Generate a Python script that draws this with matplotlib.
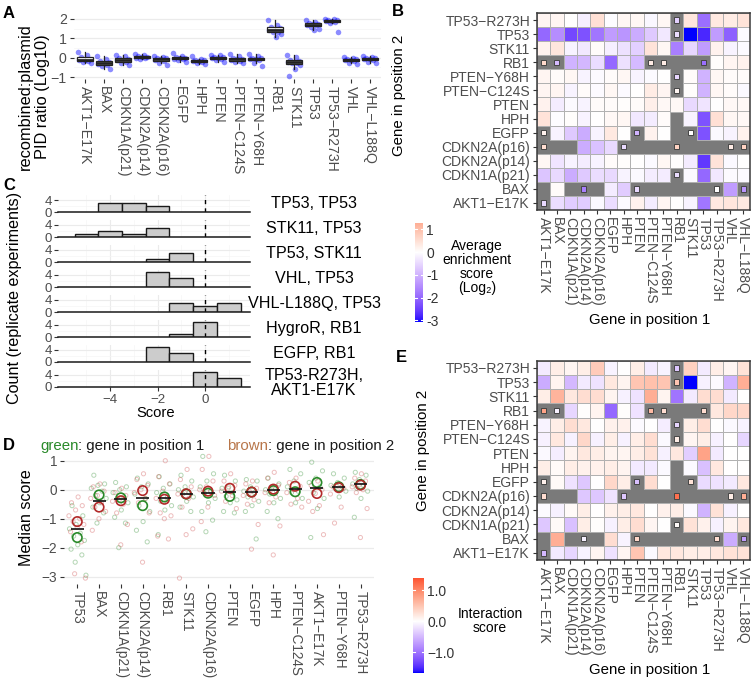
import numpy as np
import matplotlib
matplotlib.use('Agg')
import matplotlib.pyplot as plt
from matplotlib.colors import ListedColormap, Normalize
from matplotlib.patches import Rectangle

plt.rcParams['font.family'] = ['Liberation Sans', 'DejaVu Sans']
plt.rcParams['axes.unicode_minus'] = True

nan = np.nan

# ---------------- data ----------------
# Panel A
a_genes = ['AKT1−E17K', 'BAX', 'CDKN1A(p21)', 'CDKN2A(p14)', 'CDKN2A(p16)', 'EGFP', 'HPH', 'PTEN',
           'PTEN−C124S', 'PTEN−Y68H', 'RB1', 'STK11', 'TP53', 'TP53−R273H', 'VHL', 'VHL−L188Q']
a_vals = [
    [0.3, 0.12, 0.05, -0.05, -0.1, -0.12, -0.15, -0.2, -0.25],
    [0.1, -0.05, -0.15, -0.22, -0.28, -0.32, -0.38, -0.45, -0.6],
    [0.15, 0.1, 0.0, -0.05, -0.1, -0.12, -0.2, -0.25, -0.38],
    [0.2, 0.12, 0.08, 0.05, 0.02, 0.0, -0.03, -0.05],
    [0.1, 0.05, 0.0, -0.03, -0.07, -0.1, -0.15, -0.25, -0.38],
    [0.25, 0.1, 0.05, 0.0, -0.02, -0.05, -0.08, -0.12, -0.2],
    [0.1, -0.05, -0.1, -0.13, -0.15, -0.18, -0.22, -0.28, -0.35],
    [0.15, 0.12, 0.05, 0.02, 0.0, -0.03, -0.08, -0.12, -0.2],
    [0.18, 0.08, 0.0, -0.05, -0.08, -0.1, -0.15, -0.2, -0.25],
    [0.18, 0.08, 0.0, -0.02, -0.05, -0.08, -0.12, -0.3, -0.42],
    [1.95, 1.7, 1.6, 1.55, 1.45, 1.42, 1.35, 1.3, 1.2, 1.05],
    [0.15, 0.05, -0.1, -0.15, -0.2, -0.22, -0.25, -0.3, -0.4, -0.6, -0.95],
    [1.95, 1.85, 1.8, 1.75, 1.72, 1.7, 1.68, 1.6, 1.5, 1.45],
    [2.0, 1.98, 1.95, 1.92, 1.9, 1.88, 1.85, 1.78, 1.35],
    [0.05, 0.0, -0.05, -0.08, -0.1, -0.12, -0.15, -0.25, -0.35],
    [0.1, 0.05, 0.0, -0.03, -0.05, -0.08, -0.12, -0.2, -0.3],
]

# Heatmaps (B, E): columns = gene in position 1, rows (top -> bottom) = gene in position 2
heat_cols = a_genes
heat_rows_top = ['TP53−R273H', 'TP53', 'STK11', 'RB1', 'PTEN−Y68H', 'PTEN−C124S', 'PTEN', 'HPH', 'EGFP',
                 'CDKN2A(p16)', 'CDKN2A(p14)', 'CDKN1A(p21)', 'BAX', 'AKT1−E17K']
# c = measured cell, g = missing, s = few replicates (small square)
cell_type = [
    'ccccccccccsccccc',
    'ccccccccccsccccc',
    'cccccccccccccccc',
    'ssccccccssggsccc',
    'ccccccccccsccccc',
    'ccccccccccsccccc',
    'cccccccccccccccc',
    'ccccccccccgccccc',
    'sccccccsccgscccc',
    'sggcccsgggsgggss',
    'cccccccccccccccc',
    'ccccccccccsccccc',
    'gcgsgccsgggggscs',
    'sccccccccccccccc',
]
b_vals = [
    [0.15, 0.15, 0.0, -0.2, 0.5, -0.03, 0.12, 0.12, -0.1, 0.12, -0.6, 0.4, -1.9, 0.35, 0.3, 0.45],
    [-2.0, -1.5, -2.4, -2.3, -1.8, -1.3, -1.4, -1.1, -0.7, -0.3, -0.45, -3.07, -2.8, -1.3, -2.1, -0.05],
    [0.2, 0.4, -0.15, -0.3, 0.05, -0.2, -0.4, -0.6, 0.45, 0.12, -1.7, -0.55, -1.3, 0.2, -0.15, -0.05],
    [0.6, -0.9, -1.0, -0.95, -0.45, -2.0, -0.4, -0.9, 0.3, 0.3, nan, nan, -1.9, 0.03, 0.15, 0.2],
    [0.15, 0.05, 0.12, -0.15, -0.05, 0.05, 0.12, -0.15, -0.05, 0.0, -0.55, 0.05, -1.0, 0.12, 0.05, 0.05],
    [0.15, 0.15, -0.15, 0.05, -0.05, 0.12, -0.05, 0.02, 0.3, 0.15, 0.15, 0.03, -1.0, 0.12, 0.05, -0.08],
    [0.2, -0.25, -0.05, -0.15, 0.05, 0.05, 0.03, 0.05, 0.25, 0.1, 0.1, -0.5, -0.35, 0.0, 0.1, 0.1],
    [0.45, -0.03, 0.03, -0.15, 0.0, 0.1, 0.12, -0.3, -0.25, 0.05, nan, -0.15, -2.3, 0.5, 0.12, 0.1],
    [0.2, -0.15, -0.7, -1.1, -0.15, 0.35, 0.0, -1.0, 0.2, 0.0, nan, 0.02, -2.3, -0.08, -0.15, 0.2],
    [0.55, nan, nan, -1.1, -0.8, -0.5, -0.5, nan, nan, nan, 0.7, nan, nan, nan, 0.3, 0.7],
    [0.12, -0.35, -0.15, -0.25, -0.15, 0.05, 0.03, 0.0, -0.08, 0.12, 0.0, -0.25, -2.6, 0.45, -0.08, 0.0],
    [-0.75, -0.5, -1.1, -0.7, -0.45, -0.5, -0.15, -0.08, -0.25, -0.25, -0.45, -0.08, -2.0, -0.3, -0.05, -0.05],
    [nan, 0.05, nan, -1.7, nan, -0.25, -0.65, -0.5, nan, nan, nan, nan, nan, 0.0, -1.3, -1.4],
    [-0.5, -0.45, -0.65, -0.65, -0.08, -0.45, -0.05, 0.2, -0.25, 0.15, 0.0, -0.15, -1.8, 0.35, 0.4, 0.35],
]
e_vals = [
    [-0.15, 0.15, 0.08, 0.15, 0.45, -0.08, 0.0, 0.15, -0.15, -0.08, -0.4, 0.4, -0.15, 0.15, 0.08, 0.25],
    [-0.6, 0.1, -0.5, -0.15, -0.2, 0.2, 0.1, 0.5, 0.55, 0.5, 0.5, -1.68, -0.1, -0.03, -0.55, 0.7],
    [0.15, 0.65, 0.2, 0.3, 0.3, 0.1, -0.1, -0.2, 0.7, 0.1, -1.0, -0.15, 0.3, 0.3, -0.15, 0.0],
    [0.8, -0.1, -0.3, 0.02, 0.1, -1.1, 0.02, -0.2, 0.6, 0.3, nan, nan, 0.3, 0.2, 0.35, 0.35],
    [-0.08, 0.15, 0.3, 0.2, 0.0, 0.12, 0.12, -0.03, 0.0, -0.12, -0.3, 0.15, 0.3, 0.0, -0.05, -0.08],
    [-0.1, 0.2, -0.1, 0.35, -0.1, 0.15, -0.1, 0.15, 0.3, -0.05, 0.15, 0.08, 0.15, -0.1, 0.0, -0.3],
    [-0.05, -0.12, 0.1, 0.2, 0.15, 0.1, 0.08, 0.15, 0.25, -0.1, 0.2, -0.35, 0.8, -0.15, 0.0, 0.0],
    [0.15, 0.05, 0.15, 0.12, 0.12, 0.15, 0.1, -0.15, -0.15, -0.05, nan, -0.03, -0.45, 0.2, 0.0, 0.0],
    [0.12, 0.05, -0.2, -0.4, 0.0, 0.35, 0.15, -0.45, 0.3, 0.0, nan, 0.25, -0.25, -0.2, -0.15, 0.2],
    [0.3, nan, nan, -0.4, -0.4, -0.2, -0.4, nan, nan, nan, 1.2, nan, nan, nan, 0.15, 0.7],
    [-0.03, -0.1, 0.05, 0.15, 0.0, 0.12, 0.15, 0.2, 0.0, 0.12, 0.15, -0.05, -0.55, 0.25, -0.1, 0.0],
    [-0.4, 0.05, -0.45, 0.15, 0.02, -0.1, 0.15, 0.3, 0.08, 0.0, 0.05, 0.25, 0.12, -0.1, 0.1, 0.2],
    [nan, 0.7, nan, -0.1, nan, 0.3, -0.08, 0.35, nan, nan, nan, nan, nan, 0.3, -0.6, -0.7],
    [-0.5, -0.15, -0.3, -0.08, 0.08, -0.2, 0.08, 0.5, -0.05, 0.2, 0.2, 0.15, 0.15, 0.2, 0.25, 0.25],
]
b_limits = (-3.07, 1.28)
e_limits = (-1.68, 1.40)

# Panel C
c_labels = ['TP53, TP53', 'STK11, TP53', 'TP53, STK11', 'VHL, TP53', 'VHL-L188Q, TP53',
            'HygroR, RB1', 'EGFP, RB1', 'TP53-R273H,\nAKT1-E17K']
c_bins = [-5, -4, -3, -2, -1, 0, 1]
c_counts = [
    [0, 3, 3, 2, 0, 0, 0],
    [1, 2, 1, 3, 0, 0, 0],
    [0, 0, 0, 1, 3, 0, 0],
    [0, 0, 0, 5, 3, 0, 0],
    [0, 0, 0, 0, 3, 2, 3],
    [0, 0, 0, 0, 1, 5, 0],
    [0, 0, 0, 5, 3, 0, 0],
    [0, 0, 0, 0, 0, 5, 3],
]

# Panel D
d_genes = ['TP53', 'BAX', 'CDKN1A(p21)', 'CDKN2A(p14)', 'RB1', 'STK11', 'CDKN2A(p16)', 'PTEN', 'EGFP',
           'HPH', 'PTEN−C124S', 'AKT1−E17K', 'PTEN−Y68H', 'TP53−R273H']
d_median = [-1.37, -0.38, -0.32, -0.3, -0.3, -0.15, -0.1, -0.08, -0.07, 0.0, 0.02, 0.05, 0.1, 0.18]
d_pos1 = [-1.65, -0.18, -0.28, -0.55, -0.25, -0.15, -0.12, -0.23, -0.08, -0.03, -0.07, 0.25, 0.1, 0.18]
d_pos2 = [-1.1, -0.6, -0.38, -0.03, -0.33, -0.14, -0.05, 0.05, -0.08, 0.02, 0.12, -0.13, 0.07, 0.16]
d_pts1 = [
    [-0.55, -0.9, -1.2, -1.35, -1.5, -1.6, -1.75, -1.9, -2.05, -2.25, -2.5, -2.95],
    [0.5, 0.2, 0.15, 0.05, -0.05, -0.2, -0.3, -0.45, -0.6, -0.8, -1.15],
    [0.25, 0.1, 0.0, -0.1, -0.25, -0.3, -0.45, -0.7, -0.95, -1.15, -2.0],
    [0.4, 0.2, 0.1, -0.15, -0.3, -0.55, -0.75, -1.1, -1.4, -1.8],
    [0.45, 0.2, 0.05, -0.1, -0.25, -0.4, -0.55, -0.7, -1.55],
    [0.5, 0.3, 0.1, 0.0, -0.1, -0.15, -0.25, -0.4, -0.6, -0.75],
    [1.15, 0.55, 0.3, 0.1, -0.05, -0.12, -0.3, -0.45, -0.75, -1.05, -1.45],
    [0.5, 0.3, 0.1, 0.05, -0.1, -0.23, -0.35, -0.45, -0.75, -0.8],
    [0.35, 0.3, 0.1, -0.05, -0.1, -0.25, -0.4, -0.55, -0.75, -1.7],
    [0.4, 0.2, 0.1, 0.0, -0.05, -0.15, -0.3, -0.45, -0.75, -1.0],
    [0.7, 0.55, 0.3, 0.1, -0.05, -0.1, -0.3, -0.45],
    [0.95, 0.65, 0.4, 0.25, 0.1, -0.1, -0.3, -0.65, -1.65],
    [0.55, 0.4, 0.25, 0.15, 0.1, 0.05, -0.05, -0.25],
    [0.6, 0.5, 0.35, 0.2, 0.15, 0.05, -0.05, -0.3, -0.95],
]
d_pts2 = [
    [-0.25, -0.45, -0.55, -0.7, -0.9, -1.0, -1.1, -1.2, -1.3, -1.45, -1.8, -2.9, -3.05],
    [0.2, 0.1, -0.05, -0.2, -0.3, -0.45, -0.6, -0.75, -1.0, -1.4],
    [0.05, -0.1, -0.2, -0.35, -0.4, -0.5, -0.8, -1.2, -1.9],
    [0.55, 0.35, 0.15, 0.0, -0.1, -0.3, -0.45, -0.8, -2.5],
    [1.0, 0.45, 0.2, -0.05, -0.3, -0.4, -0.8, -0.9, -1.0, -1.6, -1.7],
    [0.7, 0.35, 0.1, -0.1, -0.15, -0.3, -0.6, -1.35, -1.55, -3.05],
    [1.15, 0.7, 0.3, 0.1, 0.0, -0.05, -0.1, -0.2, -0.6, -1.1],
    [0.55, 0.3, 0.15, 0.05, -0.05, -0.2, -0.4, -0.65],
    [0.3, 0.2, 0.05, -0.08, -0.2, -0.35, -0.5, -1.2, -2.05],
    [0.6, 0.4, 0.15, 0.02, -0.1, -0.25, -0.45, -1.25, -2.25],
    [0.4, 0.25, 0.12, 0.0, -0.1, -0.3, -0.5, -0.6],
    [0.3, 0.15, 0.0, -0.13, -0.4, -0.55, -0.75, -1.55],
    [0.2, 0.1, 0.05, 0.0, -0.15, -0.6, -1.15],
    [0.55, 0.4, 0.3, 0.16, 0.1, 0.0, -0.1, -0.65, -1.65],
]

# ---------------- helpers ----------------
W, H = 756, 681
fig = plt.figure(figsize=(W / 100, H / 100), dpi=100)

TICKC = '#4D4D4D'
GRIDC = '#EBEBEB'


def add_ax(x0, y0, x1, y1):
    return fig.add_axes([x0 / W, 1 - y1 / H, (x1 - x0) / W, (y1 - y0) / H])


def ftext(x, y, s, **kw):
    return fig.text(x / W, 1 - y / H, s, **kw)


_M = np.array([[0.4124, 0.3576, 0.1805], [0.2126, 0.7152, 0.0722], [0.0193, 0.1192, 0.9505]])
_WN = np.array([0.95047, 1.0, 1.08883])


def srgb2lab(rgb):
    rgb = np.asarray(rgb, float)
    lin = np.where(rgb <= 0.04045, rgb / 12.92, ((rgb + 0.055) / 1.055) ** 2.4)
    f = (_M @ lin) / _WN
    d = 6 / 29
    f = np.where(f > d ** 3, np.cbrt(f), f / (3 * d * d) + 4 / 29)
    return np.array([116 * f[1] - 16, 500 * (f[0] - f[1]), 200 * (f[1] - f[2])])


def lab2srgb(lab):
    L, a, b = lab
    fy = (L + 16) / 116
    fx = fy + a / 500
    fz = fy - b / 200
    d = 6 / 29
    fin = lambda t: t ** 3 if t > d else 3 * d * d * (t - 4 / 29)
    xyz = np.array([fin(fx), fin(fy), fin(fz)]) * _WN
    lin = np.clip(np.linalg.inv(_M) @ xyz, 0, 1)
    rgb = np.where(lin <= 0.0031308, 12.92 * lin, 1.055 * lin ** (1 / 2.4) - 0.055)
    return np.clip(rgb, 0, 1)


def gradient2():
    lo, mid, hi = srgb2lab([0, 0, 1]), srgb2lab([1, 1, 1]), srgb2lab([1, 0, 0])
    cols = []
    for t in np.linspace(0, 1, 256):
        if t < 0.5:
            lab = lo + (mid - lo) * (t / 0.5)
        else:
            lab = mid + (hi - mid) * ((t - 0.5) / 0.5)
        cols.append(lab2srgb(lab))
    return ListedColormap(cols)


CMAP = gradient2()


def style_ticks(ax, size=10):
    ax.tick_params(length=3, width=0.8, color='#333333', labelcolor=TICKC, labelsize=size, pad=2)


# ---------------- Panel A ----------------
axA = add_ax(73.6, 16, 381.4, 79)
for i, vals in enumerate(a_vals):
    n = len(vals)
    off = ((np.arange(n) * 0.618034) % 1 - 0.5) * 0.75
    axA.scatter(i + off, vals, s=16, color='#0000FF', alpha=0.45, linewidths=0, zorder=2)
bp = axA.boxplot(a_vals, positions=np.arange(len(a_vals)), widths=0.8, patch_artist=True,
                 showfliers=False, showcaps=False, zorder=3,
                 boxprops=dict(facecolor='white', edgecolor='#222222', linewidth=0.9),
                 medianprops=dict(color='#222222', linewidth=2.0),
                 whiskerprops=dict(color='#222222', linewidth=0.9))
axA.set_xlim(-0.6, len(a_vals) - 0.4)
axA.set_ylim(-1.1, 2.15)
axA.set_yticks([-1, 0, 1, 2])
axA.set_yticks([-0.5, 0.5, 1.5], minor=True)
axA.set_xticks(np.arange(len(a_genes)))
axA.set_xticklabels(a_genes, rotation=270, ha='center', va='top')
axA.grid(axis='y', which='major', color=GRIDC, lw=0.9)
axA.grid(axis='y', which='minor', color='#F4F4F4', lw=0.5)
axA.set_axisbelow(True)
for sp in axA.spines.values():
    sp.set_visible(False)
style_ticks(axA, 10.2)
axA.tick_params(which='minor', length=0)
ftext(34, 97, 'recombined:plasmid\nPID ratio (Log10)', rotation=90, ha='center', va='center',
      fontsize=11.8, linespacing=1.15)


# ---------------- Heatmaps ----------------
def draw_heat(box, vals, limits, cb_box, cb_ticks, cb_ticklabels, cb_title, cb_title_xy, ylab_xy, xlab_xy):
    ax = add_ax(*box)
    M = max(abs(limits[0]), abs(limits[1]))
    norm = Normalize(-M, M)
    ax.set_facecolor('#7A7A7A')
    nr = len(heat_rows_top)
    for r in range(nr):
        y = nr - 1 - r
        for c in range(len(heat_cols)):
            t = cell_type[r][c]
            v = vals[r][c]
            if t == 'c':
                ax.add_patch(Rectangle((c - 0.5, y - 0.5), 1, 1, facecolor=CMAP(norm(v)),
                                       edgecolor='#B0B0B0', lw=0.7))
            elif t == 's':
                ax.add_patch(Rectangle((c - 0.19, y - 0.19), 0.38, 0.38, facecolor=CMAP(norm(v)),
                                       edgecolor='#454545', lw=0.7))
    ax.set_xlim(-0.5, len(heat_cols) - 0.5)
    ax.set_ylim(-0.5, nr - 0.5)
    ax.set_xticks(np.arange(len(heat_cols)))
    ax.set_xticklabels(heat_cols, rotation=270, ha='center', va='top')
    ax.set_yticks(np.arange(nr))
    ax.set_yticklabels(heat_rows_top[::-1])
    style_ticks(ax, 10)
    for sp in ax.spines.values():
        sp.set_color('#3A3A3A')
        sp.set_linewidth(1.1)
    ftext(*ylab_xy, 'Gene in position 2', rotation=90, ha='center', va='center', fontsize=10.8)
    ftext(*xlab_xy, 'Gene in position 1', ha='center', va='center', fontsize=10.8)
    # colourbar
    cax = add_ax(*cb_box)
    grad = np.linspace(limits[0], limits[1], 300).reshape(-1, 1)
    cax.imshow(grad, cmap=CMAP, norm=norm, origin='lower', aspect='auto',
               extent=[0, 1, limits[0], limits[1]])
    cax.set_xlim(0, 1)
    cax.set_ylim(*limits)
    for tv in cb_ticks:
        cax.plot([0, 0.22], [tv, tv], color='white', lw=0.8)
        cax.plot([0.78, 1], [tv, tv], color='white', lw=0.8)
    cax.set_xticks([])
    cax.yaxis.tick_right()
    cax.set_yticks(cb_ticks)
    cax.set_yticklabels(cb_ticklabels)
    cax.tick_params(length=0, labelsize=10, labelcolor='#333333', pad=2.5)
    for sp in cax.spines.values():
        sp.set_visible(False)
    ftext(*cb_title_xy, cb_title, ha='center', va='center', fontsize=10.0, linespacing=1.0)
    return ax


draw_heat((537, 13, 750, 210), b_vals, b_limits, (415, 223, 423, 322),
          [1, 0, -1, -2, -3], ['1', '0', '-1', '-2', '-3'],
          'Average\nenrichment\nscore\n(Log₂)', (477, 267), (399, 95), (650, 320))
draw_heat((537, 360.7, 750, 560), e_vals, e_limits, (413, 578, 424, 673),
          [1.0, 0.0, -1.0], ['1.0', '0.0', '−1.0'],
          'Interaction\nscore', (490, 621), (423, 450), (650, 670))

# ---------------- Panel C ----------------
nfac = len(c_labels)
for i in range(nfac):
    y0 = 195.4 + 24.95 * i
    ax = add_ax(58, y0, 250, y0 + 16.9)
    ax.set_xlim(-6.2, 1.9)
    ax.set_ylim(0, 5.5)
    cnt = np.array(c_counts[i])
    b = np.array(c_bins)
    keep = cnt > 0
    ax.bar(b[keep], cnt[keep], width=1.0, color='#CCCCCC', edgecolor='#1A1A1A', linewidth=1.0, zorder=3)
    ax.axvline(0, color='black', lw=1.0, ls=(0, (3, 3)), zorder=4)
    ax.set_xticks([-4, -2, 0])
    ax.set_xticks([-5, -3, -1, 1], minor=True)
    ax.set_yticks([0, 4])
    ax.set_yticks([2], minor=True)
    ax.grid(which='major', color=GRIDC, lw=0.8)
    ax.grid(which='minor', color='#F5F5F5', lw=0.5)
    ax.set_axisbelow(True)
    for k in ('top', 'right', 'left'):
        ax.spines[k].set_visible(False)
    ax.spines['bottom'].set_color('#1A1A1A')
    ax.spines['bottom'].set_linewidth(1.1)
    ax.spines['bottom'].set_zorder(5)
    style_ticks(ax, 9.6)
    ax.tick_params(which='minor', length=0)
    ax.tick_params(axis='y', pad=1.5)
    if i < nfac - 1:
        ax.tick_params(axis='x', length=0, labelbottom=False)
    else:
        ax.set_xticklabels(['−4', '−2', '0'])
    ftext(314, y0 + 8.5 + (4 if i == nfac - 1 else 0), c_labels[i], ha='center', va='center',
          fontsize=11.6, linespacing=1.0)
ftext(156, 413, 'Score', ha='center', va='center', fontsize=10.6)
ftext(15, 298, 'Count (replicate experiments)', rotation=90, ha='center', va='center', fontsize=11.6)

# ---------------- Panel D ----------------
axD = add_ax(64.2, 450.3, 373.6, 584.2)
GREEN = '#2A8A2A'
BROWN = '#B22A2A'
for i in range(len(d_genes)):
    p1 = d_pts1[i]
    p2 = d_pts2[i]
    o1 = ((np.arange(len(p1)) * 0.618034 + 0.2) % 1 - 0.5) * 0.8
    o2 = ((np.arange(len(p2)) * 0.618034 + 0.55) % 1 - 0.5) * 0.8
    axD.scatter(i + o1, p1, s=9, facecolors='none', edgecolors=GREEN, alpha=0.35, linewidths=0.7, zorder=2)
    axD.scatter(i + o2, p2, s=9, facecolors='none', edgecolors='#CC4444', alpha=0.35, linewidths=0.7, zorder=2)
axD.scatter(np.arange(len(d_genes)), d_pos1, s=46, facecolors='none', edgecolors=GREEN, linewidths=1.2, zorder=4)
axD.scatter(np.arange(len(d_genes)), d_pos2, s=46, facecolors='none', edgecolors=BROWN, linewidths=1.2, zorder=4)
axD.hlines(d_median, np.arange(len(d_genes)) - 0.3, np.arange(len(d_genes)) + 0.3, color='#111111', lw=1.2, zorder=5)
axD.set_xlim(-0.6, len(d_genes) - 0.4)
axD.set_ylim(-3.26, 1.36)
axD.set_yticks([-3, -2, -1, 0, 1])
axD.set_xticks(np.arange(len(d_genes)))
axD.set_xticklabels(d_genes, rotation=270, ha='center', va='top')
axD.grid(axis='y', color=GRIDC, lw=0.9)
axD.set_axisbelow(True)
for sp in axD.spines.values():
    sp.set_visible(False)
style_ticks(axD, 9.8)
ftext(27, 518, 'Median score', rotation=90, ha='center', va='center', fontsize=11.6)

renderer = fig.canvas.get_renderer()
t = ftext(40, 446, 'green', color=GREEN, fontsize=10.8, ha='left', va='center')
w = t.get_window_extent(renderer=renderer).width
ftext(40 + w, 446, ': gene in position 1', color='#1A1A1A', fontsize=10.8, ha='left', va='center')
t = ftext(227, 446, 'brown', color='#B8764A', fontsize=10.8, ha='left', va='center')
w = t.get_window_extent(renderer=renderer).width
ftext(227 + w, 446, ': gene in position 2', color='#1A1A1A', fontsize=10.8, ha='left', va='center')

# ---------------- panel letters ----------------
for s, x, y in [('A', 3, 13), ('B', 392, 12), ('C', 3, 186), ('D', 3, 445), ('E', 396, 357)]:
    ftext(x, y, s, fontsize=12, fontweight='bold', ha='left', va='center')

fig.savefig('out.png', dpi=100)
